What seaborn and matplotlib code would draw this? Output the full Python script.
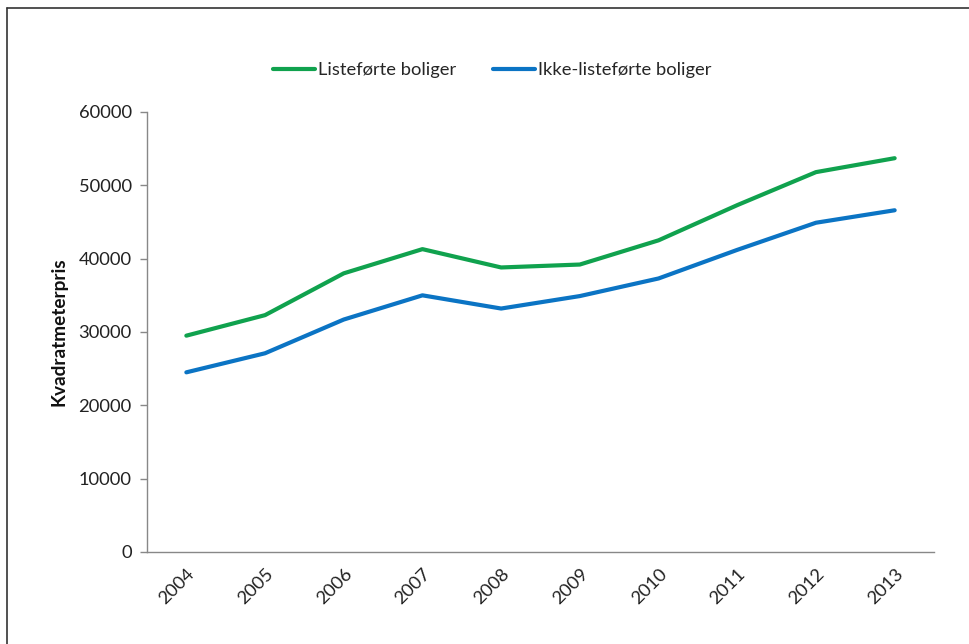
import matplotlib
matplotlib.use("Agg")
import matplotlib.pyplot as plt
from matplotlib.lines import Line2D
import seaborn as sns
import pandas as pd

years = ["2004", "2005", "2006", "2007", "2008", "2009", "2010", "2011", "2012", "2013"]
listed = [29500, 32300, 38000, 41300, 38800, 39200, 42500, 47300, 51800, 53700]
unlisted = [24500, 27100, 31700, 35000, 33200, 34900, 37300, 41200, 44900, 46600]
series_names = ["Listeførte boliger", "Ikke-listeførte boliger"]
series_colors = ["#10A24E", "#0B74C4"]
y_ticks = [0, 10000, 20000, 30000, 40000, 50000, 60000]

sns.set_theme(style="white")
plt.rcParams["font.family"] = ["Lato", "DejaVu Sans"]

df = pd.DataFrame({
    "År": years * 2,
    "Pris": listed + unlisted,
    "Serie": [series_names[0]] * len(years) + [series_names[1]] * len(years),
})

W, H = 970, 644
fig = plt.figure(figsize=(W / 100, H / 100), dpi=100)
ax = fig.add_axes([147 / W, 1 - 552 / H, (934 - 147) / W, (552 - 112) / H])

sns.lineplot(data=df, x="År", y="Pris", hue="Serie", palette=series_colors,
             hue_order=series_names, linewidth=3.0, ax=ax, legend=False,
             sort=False)

FS = 13.2
ax.set_xlim(-0.5, len(years) - 0.5)
ax.set_ylim(0, 60000)
ax.set_yticks(y_ticks)
ax.set_yticklabels([str(v) for v in y_ticks], fontsize=FS, color="#222222")

# category labels at centres, tick marks on the boundaries
ax.set_xticks(range(len(years)))
ax.set_xticklabels(years, rotation=45, ha="right", rotation_mode="anchor",
                   fontsize=FS, color="#222222")
ax.tick_params(axis="x", which="major", length=0, pad=10)
ax.set_xticks([i - 0.5 for i in range(len(years) + 1)], minor=True)
ax.tick_params(axis="x", which="minor", length=6, color="#888888", width=1,
               direction="out")
ax.tick_params(axis="y", length=5, color="#888888", width=1, direction="out",
               left=True, pad=6)

for side in ["top", "right"]:
    ax.spines[side].set_visible(False)
for side in ["left", "bottom"]:
    ax.spines[side].set_color("#888888")
    ax.spines[side].set_linewidth(1)

ax.set_xlabel("")
ax.set_ylabel("Kvadratmeterpris", fontsize=FS + 0.5, fontweight="bold",
              color="#111111", labelpad=8)

handles = [Line2D([0], [0], color=c, lw=3.0) for c in series_colors]
fig.legend(handles, series_names, loc="center", bbox_to_anchor=(492 / W, 1 - 70 / H),
           ncol=2, frameon=False, fontsize=FS, handlelength=2.3,
           handletextpad=0.15, columnspacing=2.0)

# chart frame
fig.add_artist(Line2D([7 / W, 1], [1 - 8 / H, 1 - 8 / H], color="#333333", lw=1.2))
fig.add_artist(Line2D([7 / W, 7 / W], [0, 1 - 8 / H], color="#333333", lw=1.2))

fig.savefig("out.png", dpi=100)
